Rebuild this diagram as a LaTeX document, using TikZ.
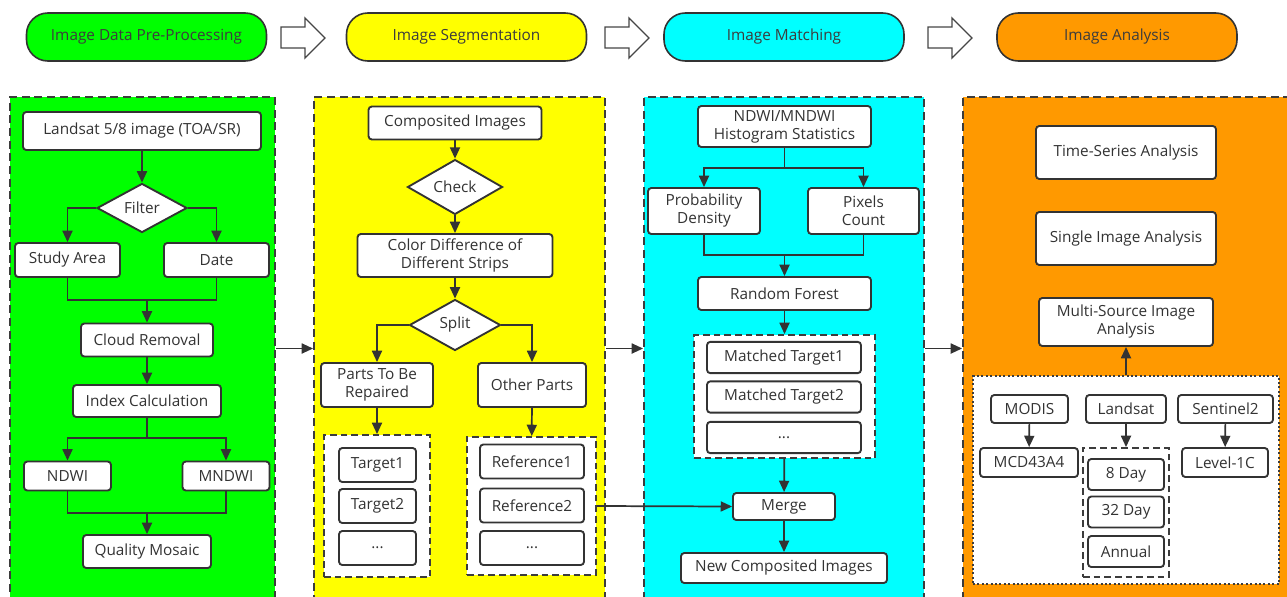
\documentclass[tikz,border=0pt]{standalone}
\usepackage{fontspec}
\setmainfont{Open Sans}
\usetikzlibrary{shapes.geometric,arrows.meta}

\begin{document}
\begin{tikzpicture}[x=0.75pt,y=0.75pt,yscale=-1,xscale=1,
  font=\fontsize{11.5}{13.5}\selectfont,
  pill/.style={draw={rgb, 255:red, 51; green, 51; blue, 51 }, line width=1.2pt, rounded corners=16pt, minimum width=180pt, minimum height=36pt, text={rgb, 255:red, 60; green, 60; blue, 60 }},
  hollow/.style={draw={rgb, 255:red, 70; green, 70; blue, 70 }, line width=1pt, fill=white},
  panel/.style={draw={rgb, 255:red, 60; green, 60; blue, 60 }, line width=1.4pt, dash pattern={on 6pt off 3.5pt}, minimum height=377.25pt, inner sep=0pt},
  dashbox/.style={draw={rgb, 255:red, 60; green, 60; blue, 60 }, line width=1.4pt, dash pattern={on 5pt off 3pt}, fill=white, inner sep=0pt},
  dotbox/.style={draw={rgb, 255:red, 60; green, 60; blue, 60 }, line width=1.4pt, dash pattern={on 1.5pt off 1.8pt}, fill=white, inner sep=0pt},
  box/.style={draw={rgb, 255:red, 51; green, 51; blue, 51 }, line width=1.4pt, fill=white, rounded corners=2.5pt, align=center, inner sep=1pt, text={rgb, 255:red, 51; green, 51; blue, 51 }},
  decision/.style={draw={rgb, 255:red, 51; green, 51; blue, 51 }, line width=1.4pt, fill=white, diamond, inner sep=0pt, text={rgb, 255:red, 51; green, 51; blue, 51 }},
  link/.style={draw={rgb, 255:red, 51; green, 51; blue, 51 }, line width=1.3pt},
  arrow/.style={link, -{Triangle[length=8.5pt,width=7.5pt]}}
]
\useasboundingbox (0,0) rectangle (1287,596);
\clip (0,0) rectangle (1287,596);

% Stage headers
\node[pill, fill={rgb, 255:red, 0; green, 255; blue, 0 }] (hpre) at (146.5,37) {Image Data Pre-Processing};
\node[pill, fill={rgb, 255:red, 255; green, 255; blue, 0 }] (hseg) at (466.5,37) {Image Segmentation};
\node[pill, fill={rgb, 255:red, 0; green, 255; blue, 255 }] (hmat) at (784,37) {Image Matching};
\node[pill, fill={rgb, 255:red, 255; green, 153; blue, 0 }] (hana) at (1117,37) {Image Analysis};
% hollow arrows between headers
\foreach \ax in {281,605,928}
  \draw[hollow] (\ax,27) -- (\ax+24,27) -- (\ax+24,18) -- (\ax+44,38) -- (\ax+24,58) -- (\ax+24,48) -- (\ax,48) -- cycle;

% Stage panels
\node[panel, fill={rgb, 255:red, 0; green, 255; blue, 0 }, minimum width=198.75pt] (pgreen) at (142.5,348.5) {};
\node[panel, fill={rgb, 255:red, 255; green, 255; blue, 0 }, minimum width=218.25pt] (pyellow) at (459.5,348.5) {};
\node[panel, fill={rgb, 255:red, 0; green, 255; blue, 255 }, minimum width=210pt] (pcyan) at (784,348.5) {};
\node[panel, fill={rgb, 255:red, 255; green, 153; blue, 0 }, minimum width=252.75pt] (porange) at (1131.5,348.5) {};
\draw[arrow] (pgreen.east) -- (pyellow.west);
\draw[arrow] (pyellow.east) -- (pcyan.west);
\draw[arrow] (pcyan.east) -- (porange.west);

% Pre-processing
\node[box, minimum width=178.5pt, minimum height=28.5pt] (landsat) at (142,131) {Landsat 5/8 image (TOA/SR)};
\node[decision, minimum width=67.5pt, minimum height=36.75pt] (filter) at (142,208) {Filter};
\node[box, minimum width=78.75pt, minimum height=25.5pt] (study) at (67.5,260) {Study Area};
\node[box, minimum width=78.75pt, minimum height=25.5pt] (date) at (216.5,260) {Date};
\node[box, minimum width=99pt, minimum height=24.75pt] (cloud) at (147,340) {Cloud Removal};
\node[box, minimum width=111pt, minimum height=24pt] (index) at (147,401) {Index Calculation};
\node[box, minimum width=65.25pt, minimum height=21.75pt] (ndwi) at (67.5,476) {NDWI};
\node[box, minimum width=65.25pt, minimum height=21.75pt] (mndwi) at (226,476) {MNDWI};
\node[box, minimum width=96pt, minimum height=24.75pt] (quality) at (147,551.5) {Quality Mosaic};
\coordinate (join1) at (147,300);
\coordinate (fork1) at (147,438);
\coordinate (join2) at (147,513);

\draw[arrow] (landsat) -- (filter);
\draw[arrow] (filter.west) -| (study.north);
\draw[arrow] (filter.east) -| (date.north);
\draw[link] (study.south) |- (join1) -| (date.south);
\draw[arrow] (join1) -- (cloud);
\draw[arrow] (cloud) -- (index);
\draw[link] (index) -- (fork1);
\draw[arrow] (fork1) -| (ndwi.north);
\draw[arrow] (fork1) -| (mndwi.north);
\draw[link] (ndwi.south) |- (join2) -| (mndwi.south);
\draw[arrow] (join2) -- (quality);

% Segmentation
\node[dashbox, minimum width=79.5pt, minimum height=106.5pt] (tgtbox) at (377,506) {};
\node[dashbox, minimum width=96.75pt, minimum height=103.5pt] (refbox) at (531.5,506) {};
\node[box, minimum width=129.75pt, minimum height=24.75pt] (comp) at (455,123) {Composited Images};
\node[decision, minimum width=71.25pt, minimum height=37.5pt] (check) at (455,187) {Check};
\node[box, minimum width=146.25pt, minimum height=32.25pt] (colordiff) at (455,255.5) {Color Difference of\\Different Strips};
\node[decision, minimum width=68.25pt, minimum height=38.25pt] (split) at (455,325) {Split};
\node[box, minimum width=84pt, minimum height=33pt] (parts) at (377,385) {Parts To Be\\Repaired};
\node[box, minimum width=81pt, minimum height=33pt] (other) at (532,385) {Other Parts};
\node[box, minimum width=57.75pt, minimum height=25.5pt] (tgt1) at (377.5,465) {Target1};
\node[box, minimum width=57.75pt, minimum height=25.5pt] (tgt2) at (377.5,506) {Target2};
\node[box, minimum width=57.75pt, minimum height=25.5pt] (tgt3) at (377.5,548) {...};
\node[box, minimum width=78pt, minimum height=25.5pt] (ref1) at (532,461.5) {Reference1};
\node[box, minimum width=78pt, minimum height=25.5pt] (ref2) at (532,505.5) {Reference2};
\node[box, minimum width=78pt, minimum height=25.5pt] (ref3) at (532,548) {...};

\draw[arrow] (comp) -- (check);
\draw[arrow] (check) -- (colordiff);
\draw[arrow] (colordiff) -- (split);
\draw[arrow] (split.west) -| (parts.north);
\draw[arrow] (split.east) -| (other.north);
\draw[arrow] (parts) -- (tgtbox);
\draw[arrow] (other) -- (refbox);

% Matching
\node[dashbox, minimum width=135.75pt, minimum height=92.25pt] (matchbox) at (784.5,396.5) {};
\node[box, minimum width=129.75pt, minimum height=30.75pt] (hist) at (784.5,126.5) {NDWI/MNDWI\\Histogram Statistics};
\node[box, minimum width=84pt, minimum height=34.5pt] (prob) at (704,211) {Probability\\Density};
\node[box, minimum width=83.25pt, minimum height=34.5pt] (pix) at (863.5,211) {Pixels\\Count};
\node[box, minimum width=129.75pt, minimum height=24.75pt] (forest) at (784.5,293.5) {Random Forest};
\node[box, minimum width=115.5pt, minimum height=23.5pt] (mt1) at (784,357.5) {Matched Target1};
\node[box, minimum width=115.5pt, minimum height=23.5pt] (mt2) at (784,397) {Matched Target2};
\node[box, minimum width=115.5pt, minimum height=23.5pt] (mt3) at (784,437.5) {...};
\node[box, minimum width=76.5pt, minimum height=20.25pt] (merge) at (784,506.5) {Merge};
\node[box, minimum width=154.5pt, minimum height=22.5pt] (newcomp) at (784,568) {New Composited Images};
\coordinate (fork2) at (784.5,168);
\coordinate (join3) at (784.5,255);

\draw[link] (hist) -- (fork2);
\draw[arrow] (fork2) -| (prob.north);
\draw[arrow] (fork2) -| (pix.north);
\draw[link] (prob.south) |- (join3) -| (pix.south);
\draw[arrow] (join3) -- (forest);
\draw[arrow] (forest) -- (matchbox);
\draw[arrow] (matchbox) -- (merge);
\draw[arrow] (merge) -- (newcomp);
\draw[arrow] (refbox.east) -- (merge.west);

% Analysis
\node[dotbox, minimum width=229.5pt, minimum height=156pt] (srcbox) at (1126,480) {};
\node[dashbox, minimum width=64.5pt, minimum height=96.75pt] (daybox) at (1126,512.5) {};
\node[box, minimum width=135pt, minimum height=39.75pt] (series) at (1126,152.5) {Time-Series Analysis};
\node[box, minimum width=135pt, minimum height=39.75pt] (single) at (1126,238.5) {Single Image Analysis};
\node[box, minimum width=130.5pt, minimum height=36pt] (multi) at (1126,322) {Multi-Source Image\\Analysis};
\node[box, minimum width=57.75pt, minimum height=21pt] (modis) at (1029.5,409) {MODIS};
\node[box, minimum width=60pt, minimum height=21pt] (lsat) at (1126,409) {Landsat};
\node[box, minimum width=71.25pt, minimum height=21pt] (senti) at (1225.5,409) {Sentinel2};
\node[box, minimum width=73.5pt, minimum height=21.75pt] (mcd) at (1029,462.5) {MCD43A4};
\node[box, minimum width=64.5pt, minimum height=21.75pt] (level) at (1225,462.5) {Level-1C};
\node[box, minimum width=57pt, minimum height=23.25pt] (day8) at (1126,474.5) {8 Day};
\node[box, minimum width=57pt, minimum height=23.25pt] (day32) at (1126,512) {32 Day};
\node[box, minimum width=57pt, minimum height=23.25pt] (annual) at (1126,551.5) {Annual};

\draw[arrow] (srcbox) -- (multi);
\draw[arrow] (modis) -- (mcd);
\draw[arrow] (lsat) -- (daybox);
\draw[arrow] (senti) -- (level);

\end{tikzpicture}
\end{document}
